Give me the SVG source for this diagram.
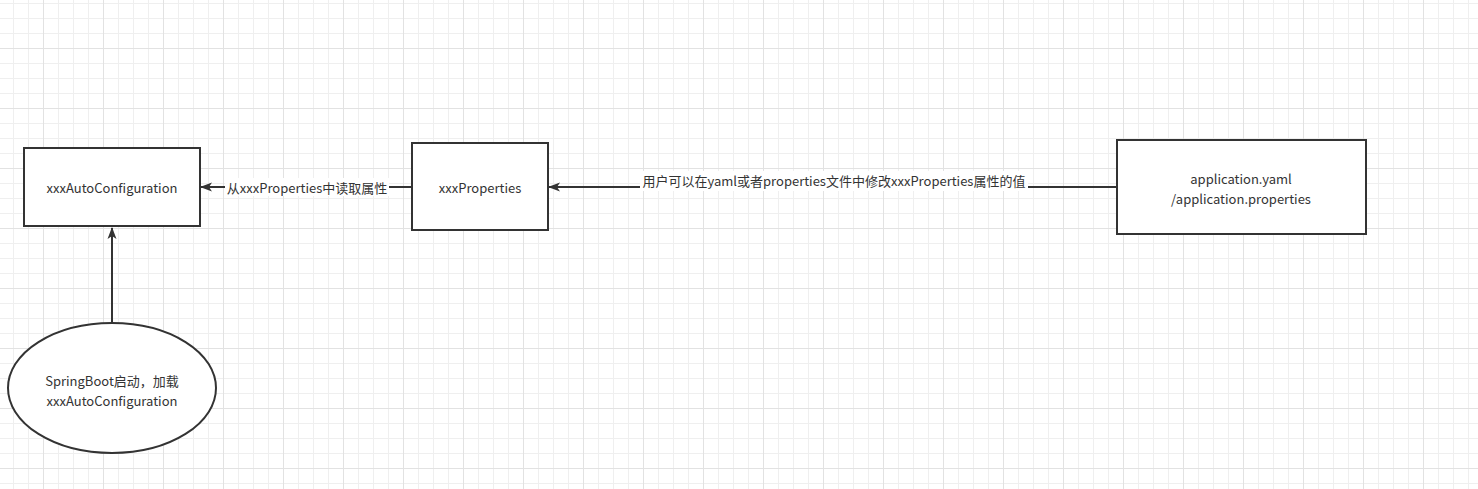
<svg xmlns="http://www.w3.org/2000/svg" width="1478" height="489" viewBox="0 0 1478 489">
<defs>
<pattern id="minor" x="13" y="3" width="15" height="15" patternUnits="userSpaceOnUse">
<path d="M0.5 0V15M0 0.5H15" fill="none" stroke="#efefef" stroke-width="1"/>
</pattern>
<pattern id="major" x="43" y="48" width="60" height="60" patternUnits="userSpaceOnUse">
<path d="M0.5 0V60M0 0.5H60" fill="none" stroke="#e2e2e2" stroke-width="1"/>
</pattern>
<marker id="arr" viewBox="0 0 12 10" refX="11" refY="5" markerWidth="12" markerHeight="10" markerUnits="userSpaceOnUse" orient="auto">
<path d="M0 0.5L12 5L0 9.5L3 5Z" fill="#333"/>
</marker>
</defs>
<style>
.shape{fill:#fff;stroke:#333;stroke-width:2}
.t{font-family:"Noto Sans CJK SC","Microsoft YaHei",sans-serif;font-size:13px;fill:#333;text-anchor:middle;dominant-baseline:central}
.edge{fill:none;stroke:#333;stroke-width:2}
.lbl{fill:#fff}
</style>
<rect width="1478" height="489" fill="#fff"/>
<rect width="1478" height="489" fill="url(#minor)"/>
<rect width="1478" height="489" fill="url(#major)"/>
<g id="connectors">
<path class="edge" d="M112 323V228" marker-end="url(#arr)"/>
<path class="edge" d="M412 187H201" marker-end="url(#arr)"/>
<rect class="lbl" x="225" y="178" width="164" height="18"/>
<text class="t" x="307" y="187.5">从xxxProperties中读取属性</text>
<path class="edge" d="M1117 187H549" marker-end="url(#arr)"/>
<rect class="lbl" x="640" y="171" width="388" height="20"/>
<text class="t" x="834" y="180">用户可以在yaml或者properties文件中修改xxxProperties属性的值</text>
</g>
<g id="autoconf">
<rect class="shape" x="24" y="148" width="176" height="78"/>
<text class="t" x="112" y="187">xxxAutoConfiguration</text>
</g>
<g id="props">
<rect class="shape" x="412" y="143" width="136" height="87"/>
<text class="t" x="480" y="187">xxxProperties</text>
</g>
<g id="app">
<rect class="shape" x="1117" y="140" width="249" height="94"/>
<text class="t" x="1241" y="178.5">application.yaml<tspan x="1241" dy="19">/application.properties</tspan></text>
</g>
<g id="springboot">
<ellipse class="shape" cx="112" cy="388" rx="104" ry="65"/>
<text class="t" x="112" y="380.5">SpringBoot启动，加载<tspan x="112" dy="19">xxxAutoConfiguration</tspan></text>
</g>
</svg>
